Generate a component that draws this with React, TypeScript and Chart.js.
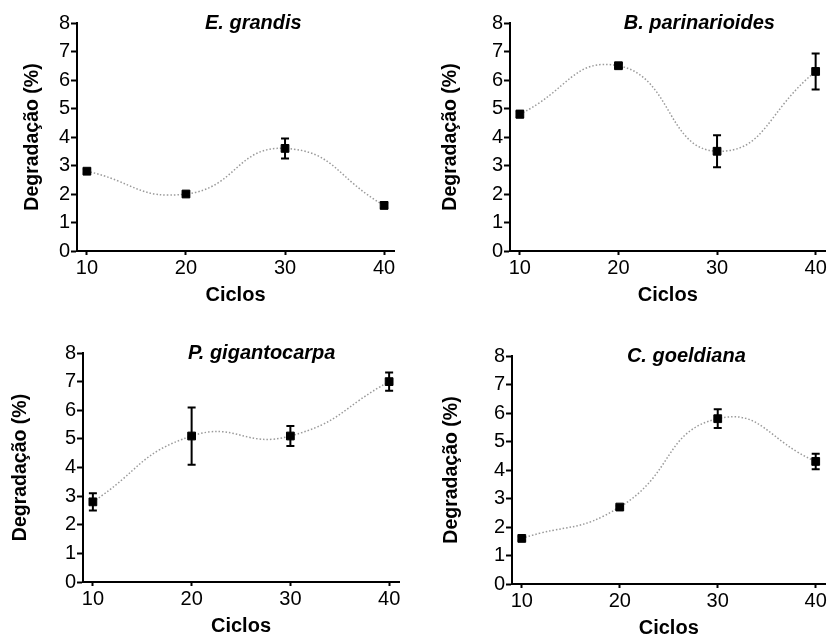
import React, { useEffect, useRef } from "react";
import { Chart, registerables } from "chart.js";

Chart.register(...registerables);

// ---------- data ----------
const CYCLES = [10, 20, 30, 40];
const X_TICKS = [10, 20, 30, 40];
const Y_TICKS = [0, 1, 2, 3, 4, 5, 6, 7, 8];

const E_GRANDIS_MEAN = [2.8, 2.0, 3.6, 1.6];
const E_GRANDIS_ERR = [0.08, 0.05, 0.35, 0.1];

const B_PARINARIOIDES_MEAN = [4.8, 6.5, 3.5, 6.3];
const B_PARINARIOIDES_ERR = [0.12, 0.08, 0.56, 0.63];

const P_GIGANTOCARPA_MEAN = [2.8, 5.1, 5.1, 7.0];
const P_GIGANTOCARPA_ERR = [0.3, 1.0, 0.35, 0.32];

const C_GOELDIANA_MEAN = [1.6, 2.7, 5.8, 4.3];
const C_GOELDIANA_ERR = [0.07, 0.05, 0.33, 0.27];

const TITLES = ["E. grandis", "B. parinarioides", "P. gigantocarpa", "C. goeldiana"];
const X_LABEL = "Ciclos";
const Y_LABEL = "Degradação (%)";

// ---------- layout / style ----------
const FONT = "'Liberation Sans', Arial, Helvetica, sans-serif";
const CANVAS_W = 416;
const X_SCALE_H = 60;
const Y_TITLE_SIZE = 19.5;

type PanelCfg = {
  title: string;
  mean: number[];
  err: number[];
  left: number;
  top: number;
  area: { l: number; t: number; r: number; b: number };
  yTitleCenter: number;
  titleX: number;
};

const PANELS: PanelCfg[] = [
  { title: TITLES[0], mean: E_GRANDIS_MEAN, err: E_GRANDIS_ERR, left: 0, top: 0,
    area: { l: 77, t: 23, r: 394, b: 251 }, yTitleCenter: 33, titleX: 26.8 },
  { title: TITLES[1], mean: B_PARINARIOIDES_MEAN, err: B_PARINARIOIDES_ERR, left: 416, top: 0,
    area: { l: 94, t: 23, r: 412, b: 251 }, yTitleCenter: 34.5, titleX: 28.2 },
  { title: TITLES[2], mean: P_GIGANTOCARPA_MEAN, err: P_GIGANTOCARPA_ERR, left: 0, top: 318,
    area: { l: 83, t: 35, r: 399, b: 264 }, yTitleCenter: 21, titleX: 27.1 },
  { title: TITLES[3], mean: C_GOELDIANA_MEAN, err: C_GOELDIANA_ERR, left: 416, top: 318,
    area: { l: 96, t: 38, r: 413, b: 266 }, yTitleCenter: 35.5, titleX: 26.8 },
];

// ---------- plugins ----------
const errorBarPlugin = {
  id: "errorBars",
  afterDatasetsDraw(chart: any) {
    const { ctx } = chart;
    const xs = chart.scales.x;
    const ys = chart.scales.y;
    chart.data.datasets.forEach((ds: any) => {
      const errs: number[] | undefined = ds.errors;
      if (!errs) return;
      ctx.save();
      ctx.strokeStyle = "#000";
      ctx.lineWidth = 2;
      ds.data.forEach((p: any, i: number) => {
        const px = xs.getPixelForValue(p.x);
        const top = ys.getPixelForValue(p.y + errs[i]);
        const bot = ys.getPixelForValue(p.y - errs[i]);
        ctx.beginPath();
        ctx.moveTo(px, top);
        ctx.lineTo(px, bot);
        ctx.moveTo(px - 4, top);
        ctx.lineTo(px + 4, top);
        ctx.moveTo(px - 4, bot);
        ctx.lineTo(px + 4, bot);
        ctx.stroke();
      });
      ctx.restore();
    });
  },
};

const panelTitlePlugin = {
  id: "panelTitle",
  afterDraw(chart: any, _args: any, opts: any) {
    if (!opts || !opts.text) return;
    const { ctx, chartArea } = chart;
    const xs = chart.scales.x;
    ctx.save();
    ctx.font = `italic bold 20px ${FONT}`;
    ctx.fillStyle = "#000";
    ctx.textAlign = "center";
    ctx.textBaseline = "middle";
    ctx.fillText(opts.text, xs.getPixelForValue(opts.xValue), chartArea.top + (opts.dy || 0));
    ctx.restore();
  },
};

function Panel({ cfg }: { cfg: PanelCfg }) {
  const ref = useRef<HTMLCanvasElement | null>(null);
  const h = cfg.area.b + X_SCALE_H;

  useEffect(() => {
    if (!ref.current) return;
    const points = CYCLES.map((c, i) => ({ x: c, y: cfg.mean[i] }));
    const chart = new Chart(ref.current, {
      type: "scatter",
      data: {
        datasets: [
          {
            data: points,
            errors: cfg.err,
            showLine: true,
            tension: 0.5,
            borderColor: "#9a9a9a",
            borderWidth: 1.5,
            borderDash: [1.5, 2],
            pointStyle: "rect",
            pointRadius: 5.5,
            pointHoverRadius: 5.5,
            pointBackgroundColor: "#000",
            pointBorderColor: "#000",
            pointBorderWidth: 1,
          } as any,
        ],
      },
      options: {
        animation: false,
        responsive: false,
        devicePixelRatio: 1,
        events: [],
        layout: {
          padding: { left: 0, top: cfg.area.t, right: CANVAS_W - cfg.area.r, bottom: 0 },
        },
        plugins: {
          legend: { display: false },
          tooltip: { enabled: false },
          title: { display: false },
          panelTitle: { text: cfg.title, xValue: cfg.titleX, dy: 0 },
        } as any,
        scales: {
          x: {
            type: "linear",
            min: 9,
            max: 41,
            afterBuildTicks: (s: any) => {
              s.ticks = X_TICKS.map((v) => ({ value: v }));
            },
            afterFit: (s: any) => {
              s.height = X_SCALE_H;
            },
            grid: {
              display: true,
              drawOnChartArea: false,
              drawTicks: true,
              tickLength: 4,
              tickWidth: 2,
              tickColor: "#000",
            },
            border: { display: true, color: "#000", width: 2 },
            ticks: {
              color: "#000",
              font: { family: FONT, size: 20 },
              padding: 1,
              maxRotation: 0,
              autoSkip: false,
            },
            title: {
              display: true,
              text: X_LABEL,
              color: "#000",
              font: { family: FONT, size: 20, weight: "bold" },
              padding: { top: 0, bottom: 4 },
            },
          },
          y: {
            type: "linear",
            min: 0,
            max: 8,
            afterBuildTicks: (s: any) => {
              s.ticks = Y_TICKS.map((v) => ({ value: v }));
            },
            afterFit: (s: any) => {
              s.width = cfg.area.l;
            },
            grid: {
              display: true,
              drawOnChartArea: false,
              drawTicks: true,
              tickLength: 6,
              tickWidth: 2,
              tickColor: "#000",
            },
            border: { display: true, color: "#000", width: 2 },
            ticks: {
              color: "#000",
              font: { family: FONT, size: 20 },
              padding: 1,
              autoSkip: false,
            },
            title: {
              display: true,
              text: Y_LABEL,
              color: "#000",
              font: { family: FONT, size: Y_TITLE_SIZE, weight: "bold" },
              padding: { top: cfg.yTitleCenter - (Y_TITLE_SIZE * 1.2) / 2, bottom: 0 },
            },
          },
        },
      } as any,
      plugins: [errorBarPlugin, panelTitlePlugin] as any,
    });
    return () => chart.destroy();
  }, []);

  return (
    <canvas
      ref={ref}
      width={CANVAS_W}
      height={h}
      style={{ position: "absolute", left: cfg.left, top: cfg.top, width: CANVAS_W, height: h }}
    />
  );
}

export default function App() {
  return (
    <div
      style={{
        position: "absolute",
        left: 0,
        top: 0,
        width: 832,
        height: 636,
        overflow: "hidden",
        background: "#fff",
      }}
    >
      {PANELS.map((p, i) => (
        <Panel key={i} cfg={p} />
      ))}
    </div>
  );
}
